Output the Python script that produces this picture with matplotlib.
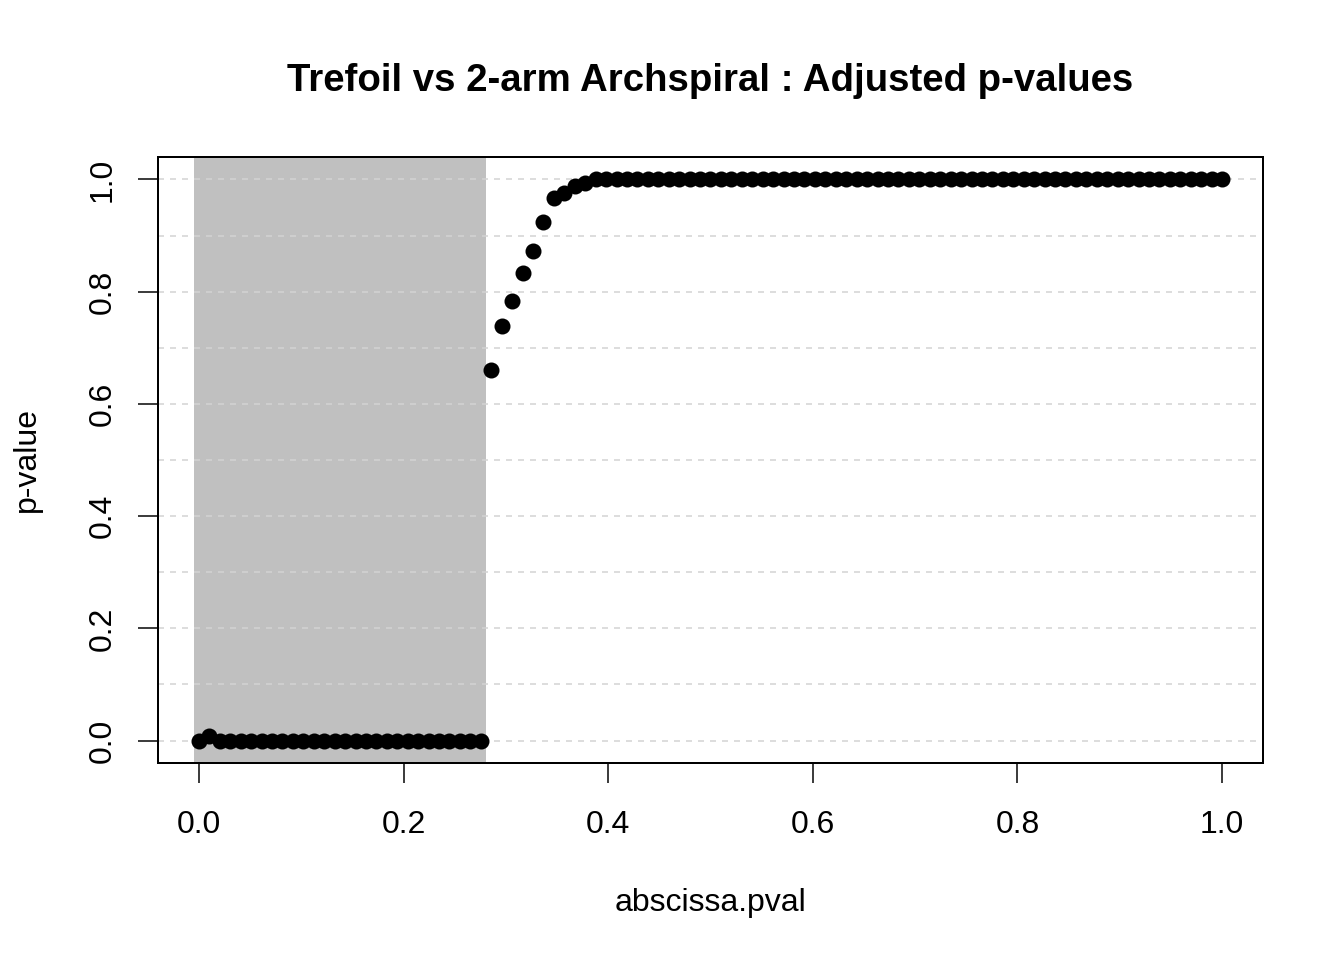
import numpy as np
import matplotlib.pyplot as plt

plt.rcParams['font.family'] = ['Liberation Sans', 'DejaVu Sans']

# abscissa.pval grid (99 points from 0 to 1) and adjusted p-values
abscissa = np.linspace(0, 1, 99)
pval_start = [0.0, 0.008] + [0.0] * 26
pval_rise = [0.660, 0.738, 0.783, 0.834, 0.873, 0.925, 0.967, 0.976, 0.989, 0.993]
pval_end = [1.0] * 61
pvals = np.array(pval_start + pval_rise + pval_end)

# shaded region: significant points (first 28)
n_sig = 28
step = abscissa[1] - abscissa[0]

fig = plt.figure(figsize=(1344 / 144, 960 / 144), dpi=144)
ax = fig.add_axes([158 / 1344, 1 - 763 / 960, (1263 - 158) / 1344, (763 - 157) / 960])

ax.axvspan(abscissa[0] - step / 2, abscissa[n_sig - 1] + step / 2,
           color='#C0C0C0', lw=0, zorder=1)
for g in np.arange(0, 1.01, 0.1):
    ax.axhline(g, color='#D3D3D3', lw=0.75, ls=(0, (4, 4)), zorder=2)
ax.plot(abscissa, pvals, 'o', color='black', markersize=7, zorder=3)

ax.set_xlim(-0.04, 1.04)
ax.set_ylim(-0.04, 1.04)
ax.set_xticks([0, 0.2, 0.4, 0.6, 0.8, 1.0])
ax.set_yticks([0, 0.2, 0.4, 0.6, 0.8, 1.0])
ax.set_xticklabels(['0.0', '0.2', '0.4', '0.6', '0.8', '1.0'])
ax.set_yticklabels(['0.0', '0.2', '0.4', '0.6', '0.8', '1.0'], rotation=90, va='center')
ax.tick_params(axis='both', length=10, width=0.75, labelsize=16, direction='out')
ax.tick_params(axis='x', pad=13.5)
ax.tick_params(axis='y', pad=10)
for s in ax.spines.values():
    s.set_linewidth(1.0)

ax.set_xlabel('abscissa.pval', fontsize=16, labelpad=24)
ax.set_ylabel('p-value', fontsize=16, labelpad=23)
fig.text((158 + 1263) / 2 / 1344, 1 - 81 / 960,
         'Trefoil vs 2-arm Archspiral : Adjusted p-values',
         ha='center', va='center', fontsize=19.2, fontweight='bold')

fig.savefig('out.png', dpi=144)
